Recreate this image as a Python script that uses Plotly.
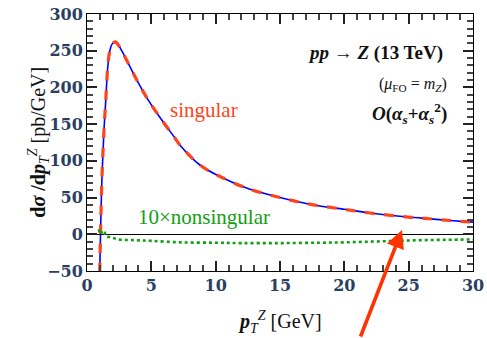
import plotly.graph_objects as go

# singular cross section (pb/GeV) vs pT^Z (GeV)
x_sing = [0.99, 1.05, 1.15, 1.30, 1.45, 1.60, 1.75, 1.95, 2.20, 2.50, 2.70, 3.20, 4.00,
          4.75, 5.80, 6.80, 7.20, 8.80, 10.3, 12.4, 15.0, 17.3, 20.0, 22.0, 24.3, 26.0,
          28.2, 30.0]
y_sing = [-52, 0, 70, 135, 180, 225, 248, 259, 262, 256, 250, 233, 206,
          183, 156, 132, 122, 94, 79, 63, 50, 41, 34, 29, 24.5, 22,
          18.8, 16.5]

# 10 x nonsingular
x_ns = [0.92, 1.00, 1.07, 1.20, 1.36, 1.50, 1.90, 2.40, 3.70, 5.0, 7.3, 10.0, 12.0,
        15.0, 18.0, 20.0, 22.0, 24.0, 26.0, 28.0, 30.0]
y_ns = [7, 2, 0, 5, 3, -3, -4, -7, -8, -9, -11, -11.5, -12,
        -12, -11.5, -11, -10, -9, -8, -7.5, -7]

x_ticks = [0, 5, 10, 15, 20, 25, 30]
y_ticks = [-50, 0, 50, 100, 150, 200, 250, 300]

RED = "#ff4419"
BLUE = "#0000ff"
GREEN = "#11a011"
FONT = "DejaVu Serif"
TFONT = "Liberation Serif"

fig = go.Figure()
fig.add_trace(go.Scatter(x=x_sing, y=y_sing, mode="lines", line=dict(color=BLUE, width=1.6),
                         line_shape="spline"))
fig.add_trace(go.Scatter(x=x_sing, y=y_sing, mode="lines",
                         line=dict(color=RED, width=3.2, dash="dash"), line_shape="spline"))
fig.add_trace(go.Scatter(x=x_ns, y=y_ns, mode="lines",
                         line=dict(color=GREEN, width=2.6, dash="dot"), line_shape="spline"))

fig.update_xaxes(range=[0, 30], tickvals=x_ticks, ticks="inside", ticklen=10, tickwidth=2,
                 tickcolor="#222222", showline=True, linecolor="black", mirror="allticks",
                 showgrid=False, zeroline=False,
                 minor=dict(ticks="inside", dtick=1, ticklen=6, tickwidth=1.5, tickcolor="#444444"),
                 tickfont=dict(family=FONT, size=16, weight="bold"))
fig.update_yaxes(range=[-50, 300], tickvals=y_ticks,
                 ticktext=[("\u2212" + str(-v)) if v < 0 else str(v) for v in y_ticks],
                 ticks="inside", ticklen=10, tickwidth=2,
                 tickcolor="#222222", showline=True, linecolor="black", mirror="allticks",
                 showgrid=False,
                 zeroline=True, zerolinecolor="black", zerolinewidth=1.2,
                 minor=dict(ticks="inside", dtick=10, ticklen=6, tickwidth=1.5, tickcolor="#444444"),
                 tickfont=dict(family=FONT, size=16, weight="bold"))

annots = [
    dict(x=9.07, y=169, text="singular", showarrow=False,
         font=dict(family=TFONT, size=21, color=RED)),
    dict(x=9.1, y=23.5, text="10×nonsingular", showarrow=False,
         font=dict(family=TFONT, size=21, color=GREEN)),
    dict(x=27.8, y=247, xanchor="right", text="<b><i>pp</i> → <i>Z</i> (13 TeV)</b>",
         showarrow=False, font=dict(family=TFONT, size=19, color="#111")),
    dict(x=28.1, y=204, xanchor="right", text="(<i>μ</i><sub>FO</sub> = <i>m</i><sub><i>Z</i></sub>)",
         showarrow=False, font=dict(family=TFONT, size=16, color="#111")),
    dict(x=28.1, y=165, xanchor="right",
         text="<b><i>O</i>(<i>α</i><sub><i>s</i></sub>+<i>α</i><sub><i>s</i></sub><sup>2</sup>)</b>",
         showarrow=False, font=dict(family=TFONT, size=19, color="#111")),
    # axis titles
    dict(xref="paper", yref="paper", x=0.5, y=-0.2, yanchor="middle",
         text="<b><i>p</i></b><sub><i>T</i></sub><sup><i>Z</i></sup> [GeV]", showarrow=False,
         font=dict(family=TFONT, size=20, color="#111")),
    dict(xref="paper", yref="paper", x=-0.168, y=0.5, textangle=-90,
         text="<b>d<i>σ</i> /d<i>p</i></b><sub><i>T</i></sub><sup><i>Z</i></sup> [pb/GeV]",
         showarrow=False, font=dict(family=TFONT, size=20, color="#111")),
    dict(x=24.48, y=5.9, ax=-42, ay=115, text="", showarrow=True, arrowhead=2,
         arrowsize=1, arrowwidth=3.6, arrowcolor="#ff3300", standoff=0),
]
fig.update_layout(
    width=487, height=338, margin=dict(l=87, r=14, t=14, b=67, autoexpand=False),
    showlegend=False, paper_bgcolor="white", plot_bgcolor="white", annotations=annots,
)
fig.write_html("out.html")
